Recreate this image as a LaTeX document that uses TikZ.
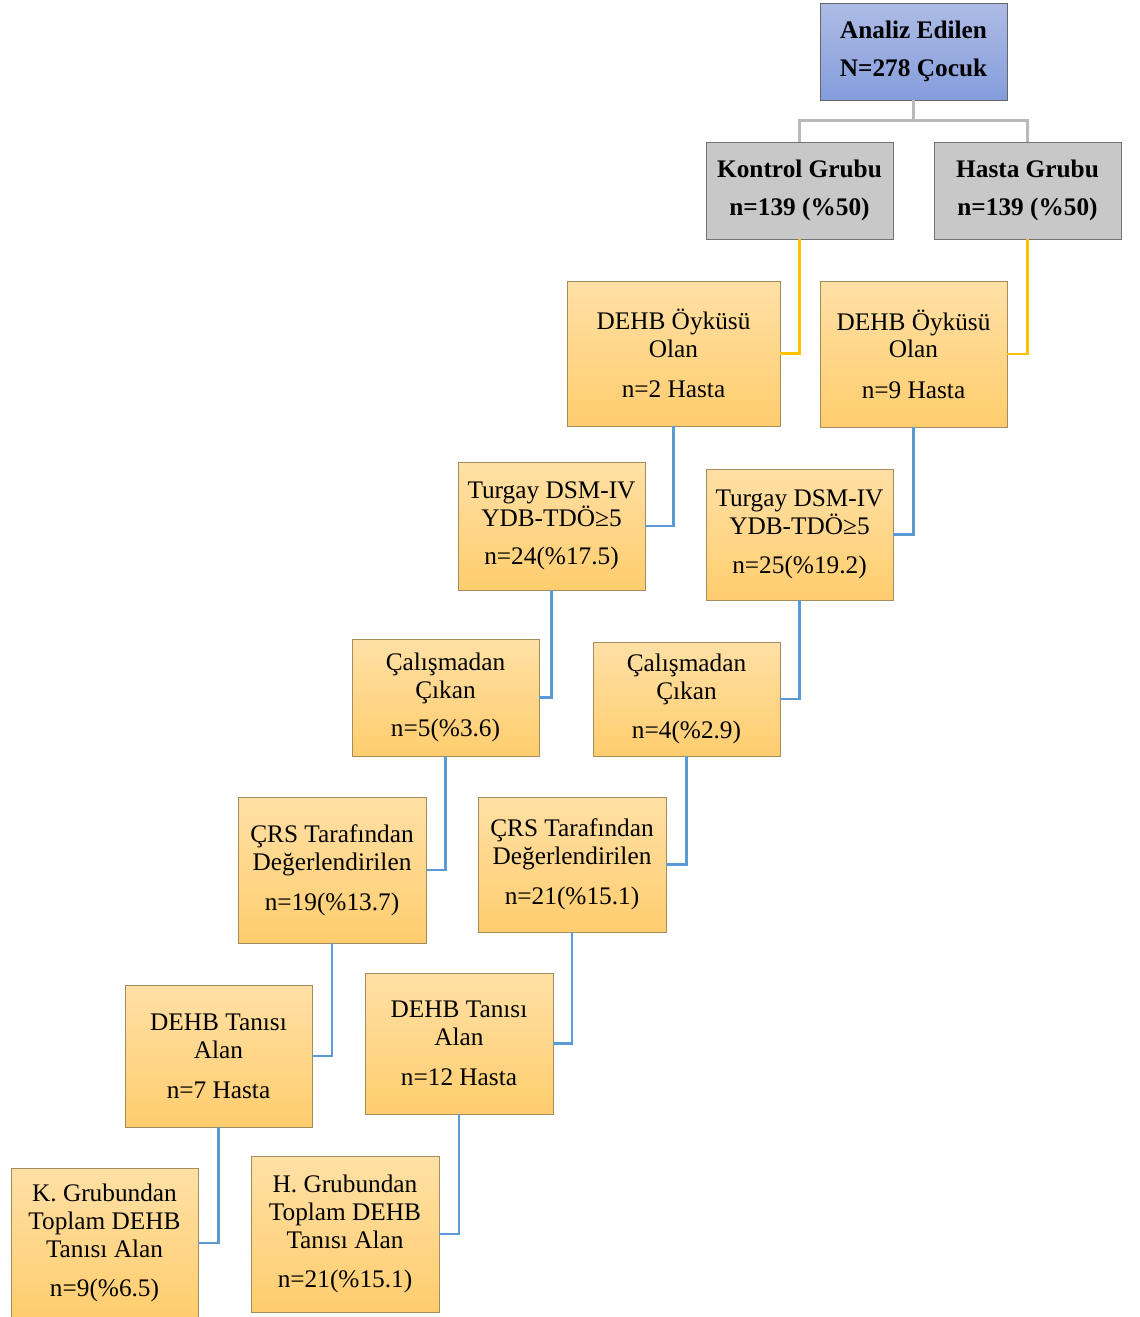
\documentclass[tikz,border=0pt]{standalone}
\usepackage{fontspec}
\setmainfont{Liberation Serif}
\definecolor{orangetop}{RGB}{255,224,165}
\definecolor{orangebot}{RGB}{255,205,110}
\definecolor{orangeline}{RGB}{165,140,95}
\definecolor{bluetop}{RGB}{174,188,230}
\definecolor{bluebot}{RGB}{132,157,219}
\definecolor{grayfill}{RGB}{200,200,200}
\definecolor{grayline}{RGB}{185,185,185}
\definecolor{goldline}{RGB}{255,192,0}
\definecolor{skyline}{RGB}{91,155,213}
\tikzset{
    every picture/.style={x=0.02cm,y=-0.02cm},
    box/.style={draw=orangeline,top color=orangetop,bottom color=orangebot,
        align=center,inner sep=0pt,minimum width=3.74cm,
        font=\fontsize{14.4}{15.9}\selectfont},
    headbox/.style={box,draw=black!60,top color=bluetop,bottom color=bluebot,
        font=\fontsize{14.4}{15.9}\selectfont\bfseries},
    groupbox/.style={box,draw=black!55,top color=grayfill,bottom color=grayfill,
        font=\fontsize{14.4}{15.9}\selectfont\bfseries},
    treeline/.style={draw=grayline,line width=1.6pt},
    goldlink/.style={draw=goldline,line width=1.5pt},
    bluelink/.style={draw=skyline,line width=1.5pt}
}

\begin{document}
\begin{tikzpicture}
    \useasboundingbox (0,0) rectangle (1139,1317);
    \node[headbox,minimum height=1.94cm]  (0)  at (913.5,51.5)   {Analiz Edilen\\[6pt]N=278 Çocuk};
    \node[groupbox,minimum height=1.94cm] (1)  at (799.5,190.5)  {Kontrol Grubu\\[6pt]n=139 (\%50)};
    \node[groupbox,minimum height=1.94cm] (2)  at (1027.5,190.5) {Hasta Grubu\\[6pt]n=139 (\%50)};
    \node[box,minimum width=4.26cm,minimum height=2.9cm] (3)  at (673.5,353.5) {DEHB Öyküsü\\Olan\\[7pt]n=2 Hasta};
    \node[box,minimum height=2.92cm] (4)  at (913.5,354)   {DEHB Öyküsü\\Olan\\[7pt]n=9 Hasta};
    \node[box,minimum height=2.56cm] (5)  at (551.5,526)   {Turgay DSM-IV\\YDB-TDÖ≥5\\[6pt]n=24(\%17.5)};
    \node[box,minimum height=2.62cm] (6)  at (799.5,534.5) {Turgay DSM-IV\\YDB-TDÖ≥5\\[6pt]n=25(\%19.2)};
    \node[box,minimum height=2.34cm] (7)  at (445.5,697.5) {Çalışmadan\\Çıkan\\[6pt]n=5(\%3.6)};
    \node[box,minimum height=2.28cm] (8)  at (686.5,699)   {Çalışmadan\\Çıkan\\[6pt]n=4(\%2.9)};
    \node[box,minimum width=3.76cm,minimum height=2.92cm] (9)  at (332,870)   {ÇRS Tarafından\\Değerlendirilen\\[7pt]n=19(\%13.7)};
    \node[box,minimum width=3.76cm,minimum height=2.7cm]  (10) at (572,864.5)  {ÇRS Tarafından\\Değerlendirilen\\[7pt]n=21(\%15.1)};
    \node[box,minimum height=2.84cm] (11) at (218.5,1056)  {DEHB Tanısı\\Alan\\[7pt]n=7 Hasta};
    \node[box,minimum width=3.76cm,minimum height=2.82cm] (12) at (459,1043.5) {DEHB Tanısı\\Alan\\[7pt]n=12 Hasta};
    \node[box,minimum height=3.0cm]  (13) at (104.5,1243)  {K. Grubundan\\Toplam DEHB\\Tanısı Alan\\[6pt]n=9(\%6.5)};
    \node[box,minimum width=3.76cm,minimum height=3.12cm] (14) at (345,1234)   {H. Grubundan\\Toplam DEHB\\Tanısı Alan\\[6pt]n=21(\%15.1)};
    % connectors
    \coordinate (t) at ([yshift=-0.4cm]0.south);
    \path[treeline] (0.south) -- (t) -| (1.north)
                    (t) -| (2.north);
    \path[goldlink] (1.south) |- (3.east)
                    (2.south) |- (4.east);
    \path[bluelink] (3.south) |- (5.east)
                    (4.south) |- (6.east)
                    (5.south) |- (7.east)
                    (6.south) |- (8.east)
                    (7.south) |- (9.east)
                    (8.south) |- (10.east)
                    (9.south) |- (11.east)
                    (10.south) |- (12.east)
                    (11.south) |- (13.east)
                    (12.south) |- (14.east);
\end{tikzpicture}
\end{document}
